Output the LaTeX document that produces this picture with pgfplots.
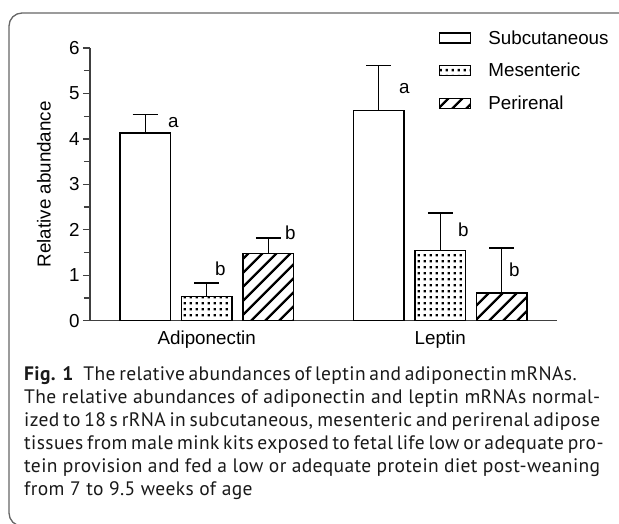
\documentclass[border=0pt]{standalone}
\usepackage{fontspec}
\setmainfont{Liberation Sans}
\newfontfamily\capfont[LetterSpace=2]{PT Sans}
\usepackage{pgfplots}
\pgfplotsset{compat=1.18}
\usetikzlibrary{patterns.meta}

\tikzdeclarepattern{
  name=mydots, type=uncolored,
  bottom left={(0pt,0pt)}, top right={(5.7pt,5.7pt)},
  tile size={(5.7pt,5.7pt)},
  code={\pgfpathrectangle{\pgfqpoint{1.6pt}{1.6pt}}{\pgfqpoint{2.5pt}{2.5pt}}\pgfusepath{fill}}
}
\tikzdeclarepattern{
  name=myhatch, type=uncolored,
  bottom left={(0pt,0pt)}, top right={(10.3pt,10.3pt)},
  tile size={(10.3pt,10.3pt)},
  tile transformation={rotate=45},
  code={\pgfsetlinewidth{2.6pt}\pgfpathmoveto{\pgfqpoint{-1pt}{5.15pt}}\pgfpathlineto{\pgfqpoint{11.3pt}{5.15pt}}\pgfusepath{stroke}}
}

\newcommand{\cf}{\fontsize{18.8}{20}\selectfont}

\begin{document}
\begin{tikzpicture}
\useasboundingbox (0pt,0pt) rectangle (619pt,523pt);
\draw[line width=1.3pt, color=black!60, rounded corners=13pt] (660pt,510pt) -- (9pt,510pt) -- (9pt,-3pt) -- (660pt,-3pt);
\begin{axis}[
  at={(90pt,202.3pt)}, anchor=south west,
  scale only axis, width=467pt, height=272.7pt,
  xmin=-0.5, xmax=1.5, ymin=0, ymax=6,
  ybar,
  axis lines*=left,
  axis line style={line width=1.5pt, draw=black!75},
  xtick={0,1}, xticklabels={Adiponectin,Leptin},
  major x tick style={draw=none},
  ytick={0,1,...,6}, minor ytick={0.5,1.5,...,5.5},
  tick align=outside,
  major tick length=7pt, minor tick length=6pt,
  y tick style={line width=1.3pt, black!75},
  tick label style={font=\cf},
  /pgf/number format/assume math mode=true,
  ylabel={Relative abundance},
  ylabel style={at={(axis description cs:-0.0985,0.5)}, anchor=center, font=\cf},
  legend style={at={(axis description cs:0.7473,1.065)}, anchor=north west,
    draw=none, fill=none, inner sep=0pt, font=\cf, row sep=17.5pt,
    nodes={inner sep=0pt},
    /tikz/every odd column/.append style={column sep=17pt}},
  legend cell align=left,
  mylegend/.style={legend image code/.code={\draw[##1, line width=1.2pt] (0pt,-5pt) rectangle (31pt,5pt);}},
  myerr/.style={error bars/.cd, y dir=plus, y explicit, error mark=|,
    error bar style={line width=1.2pt, black},
    error mark options={line width=1.2pt, mark size=12.5pt, black}},
  clip=false,
]
\addplot[bar width=0.216, bar shift=-0.2634, draw=black, line width=1.2pt, fill=white, mylegend, myerr]
  coordinates {(0,4.13) +- (0,0.41) (1,4.62) +- (0,1.00)};
\addlegendentry{Subcutaneous}
\addplot[bar width=0.216, bar shift=0, draw=black, line width=1.2pt, pattern=mydots, pattern color=black, mylegend, myerr]
  coordinates {(0,0.53) +- (0,0.30) (1,1.54) +- (0,0.83)};
\addlegendentry{Mesenteric}
\addplot[bar width=0.216, bar shift=0.2634, draw=black, line width=1.2pt, pattern=myhatch, pattern color=black, mylegend, myerr]
  coordinates {(0,1.47) +- (0,0.35) (1,0.61) +- (0,0.99)};
\addlegendentry{Perirenal}
\node[font=\cf, inner sep=0pt] at (axis cs:-0.1435,4.37) {a};
\node[font=\cf, inner sep=0pt] at (axis cs:0.058,1.136) {b};
\node[font=\cf, inner sep=0pt] at (axis cs:0.358,1.93) {b};
\node[font=\cf, inner sep=0pt] at (axis cs:0.846,5.11) {a};
\node[font=\cf, inner sep=0pt] at (axis cs:1.0985,1.99) {b};
\node[font=\cf, inner sep=0pt] at (axis cs:1.317,1.11) {b};
\end{axis}
\begin{scope}[every node/.style={anchor=base west, inner sep=0pt, text=black!90, font=\capfont\fontsize{19.5}{23}\selectfont}]
\node at (24pt,143pt) {\makebox[532pt][s]{\textbf{Fig. 1}\hspace{6pt} The relative abundances of leptin and adiponectin mRNAs.}};
\node at (24pt,120pt) {\makebox[576pt][s]{The relative abundances of adiponectin and leptin mRNAs normal-}};
\node at (24pt,97pt) {\makebox[576pt][s]{ized to 18 s rRNA in subcutaneous, mesenteric and perirenal adipose}};
\node at (24pt,74pt) {\makebox[576pt][s]{tissues from male mink kits exposed to fetal life low or adequate pro-}};
\node at (24pt,51pt) {\makebox[576pt][s]{tein provision and fed a low or adequate protein diet post-weaning}};
\node at (24pt,28pt) {from 7 to 9.5 weeks of age};
\end{scope}
\end{tikzpicture}
\end{document}
